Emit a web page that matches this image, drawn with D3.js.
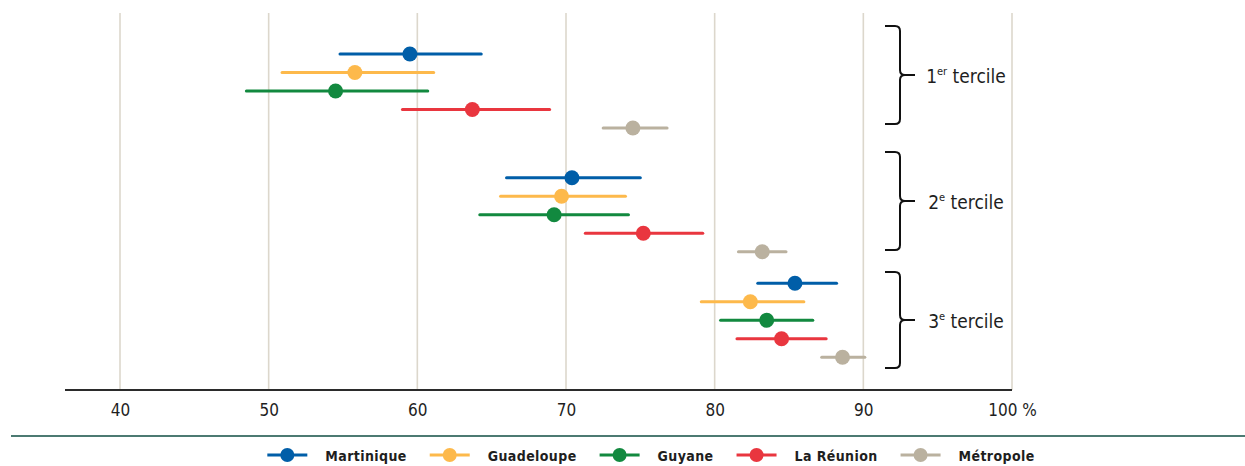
<!DOCTYPE html>
<html>
<head>
<meta charset="utf-8">
<script src="https://cdn.jsdelivr.net/npm/d3@7"></script>
<style>
  html, body { margin: 0; padding: 0; background: #fff; }
  svg { display: block; }
  text { font-family: "DejaVu Sans Condensed", "DejaVu Sans", sans-serif; font-stretch: condensed; fill: #1e1e1e; }
</style>
</head>
<body>
<svg id="chart" width="1245" height="466"></svg>
<script>
// Territories (series), in drawing order within each tercile
const series = ["Martinique", "Guadeloupe", "Guyane", "La Réunion", "Métropole"];
const seriesColors = ["#005ea8", "#fdb94b", "#12893f", "#e9363f", "#bab19f"];

// Income terciles
const terciles = ["1", "2", "3"];
const tercileSup = ["er", "e", "e"];

// Central estimate and interval bounds (%), one array per tercile, same order as series
const estimate1 = [59.5, 55.8, 54.5, 63.7, 74.5];
const low1      = [54.8, 50.9, 48.5, 59.0, 72.5];
const high1     = [64.3, 61.1, 60.7, 68.9, 76.8];

const estimate2 = [70.4, 69.7, 69.2, 75.2, 83.2];
const low2      = [66.0, 65.6, 64.2, 71.3, 81.6];
const high2     = [75.0, 74.0, 74.2, 79.2, 84.8];

const estimate3 = [85.4, 82.4, 83.5, 84.5, 88.6];
const low3      = [82.9, 79.1, 80.4, 81.5, 87.2];
const high3     = [88.2, 86.0, 86.6, 87.5, 90.1];

// Axis ticks
const tickValues = [40, 50, 60, 70, 80, 90, 100];
const tickLabels = ["40", "50", "60", "70", "80", "90", "100 %"];

// Build rows from the arrays above
const groups = [
  { est: estimate1, lo: low1, hi: high1 },
  { est: estimate2, lo: low2, hi: high2 },
  { est: estimate3, lo: low3, hi: high3 }
];
const rows = [];
groups.forEach((g, gi) => {
  series.forEach((s, si) => {
    rows.push({ tercile: terciles[gi], series: s, color: seriesColors[si], idx: si,
                est: g.est[si], lo: g.lo[si], hi: g.hi[si] });
  });
});

// ---- layout ----
const svg = d3.select("#chart");
const plotTop = 13, plotBottom = 390;
const axisLeft = 65;

const x = d3.scaleLinear().domain([40, 100]).range([120, 1012]);

// vertical position of the first row of each tercile, and row spacing
const groupStart = d3.scaleOrdinal().domain(terciles).range([54, 177.7, 283.3]);
const rowStep = 18.5;
const y = d => groupStart(d.tercile) + d.idx * rowStep;

// brace extents for each tercile block
const braceTop = d3.scaleOrdinal().domain(terciles).range([26, 152, 272]);
const braceBottom = d3.scaleOrdinal().domain(terciles).range([124, 250, 368]);

// gridlines
svg.append("g")
  .selectAll("line")
  .data(tickValues)
  .join("line")
  .attr("x1", d => x(d)).attr("x2", d => x(d))
  .attr("y1", plotTop).attr("y2", plotBottom)
  .attr("stroke", "#dcd7cc")
  .attr("stroke-width", 1.6);

// axis
const axis = d3.axisBottom(x)
  .tickValues(tickValues)
  .tickFormat((d, i) => tickLabels[i])
  .tickSize(0)
  .tickPadding(14);
const ax = svg.append("g").attr("transform", `translate(0,${plotBottom})`).call(axis);
ax.select(".domain").remove();
ax.selectAll("text")
  .attr("font-size", 17)
  .attr("font-family", null)
  .attr("fill", "#1e1e1e");
svg.append("line")
  .attr("x1", axisLeft).attr("x2", x(100))
  .attr("y1", plotBottom).attr("y2", plotBottom)
  .attr("stroke", "#2b2b2b").attr("stroke-width", 2);

// interval lines
svg.append("g")
  .selectAll("line")
  .data(rows)
  .join("line")
  .attr("x1", d => x(d.lo)).attr("x2", d => x(d.hi))
  .attr("y1", d => y(d)).attr("y2", d => y(d))
  .attr("stroke", d => d.color)
  .attr("stroke-width", 3)
  .attr("stroke-linecap", "round");

// point estimates
svg.append("g")
  .selectAll("circle")
  .data(rows)
  .join("circle")
  .attr("cx", d => x(d.est))
  .attr("cy", d => y(d))
  .attr("r", 7.5)
  .attr("fill", d => d.color);

// braces with tercile labels
function bracePath(x0, top, bottom) {
  const mid = (top + bottom) / 2;
  const r = 5, xv = x0 + 15, tip = x0 + 30;
  return `M${x0},${top} L${xv - r},${top} Q${xv},${top} ${xv},${top + r}` +
         ` L${xv},${mid - r} Q${xv},${mid} ${xv + r},${mid} L${tip},${mid}` +
         ` M${xv + r},${mid} Q${xv},${mid} ${xv},${mid + r}` +
         ` L${xv},${bottom - r} Q${xv},${bottom} ${xv - r},${bottom} L${x0},${bottom}`;
}
const braces = svg.append("g").selectAll("g").data(terciles).join("g");
braces.append("path")
  .attr("d", t => bracePath(885, braceTop(t), braceBottom(t)))
  .attr("fill", "none")
  .attr("stroke", "#111")
  .attr("stroke-width", 2);
const lbl = braces.append("text")
  .attr("x", 966)
  .attr("y", t => (braceTop(t) + braceBottom(t)) / 2 + 8)
  .attr("text-anchor", "middle")
  .attr("font-size", 19);
lbl.append("tspan").text(t => t);
lbl.append("tspan")
  .attr("font-size", 11)
  .attr("dy", -8)
  .text((t, i) => tercileSup[i]);
lbl.append("tspan")
  .attr("dy", 8)
  .text(" tercile");

// separator above legend
svg.append("line")
  .attr("x1", 11).attr("x2", 1245)
  .attr("y1", 436).attr("y2", 436)
  .attr("stroke", "#4c7a72").attr("stroke-width", 2);

// legend
const legendY = 455;
const legend = svg.append("g");
const items = legend.selectAll("g").data(series).join("g");
items.append("line")
  .attr("x1", 0).attr("x2", 40)
  .attr("y1", 0).attr("y2", 0)
  .attr("stroke", (d, i) => seriesColors[i])
  .attr("stroke-width", 3);
items.append("circle")
  .attr("cx", 20).attr("cy", 0).attr("r", 7)
  .attr("fill", (d, i) => seriesColors[i]);
items.append("text")
  .attr("x", 58)
  .attr("y", 5.5)
  .attr("font-size", 14)
  .attr("font-weight", 700)
  .attr("letter-spacing", 0.4)
  .attr("fill", "#222")
  .text(d => d);
let cursor = 0;
items.each(function () {
  const g = d3.select(this);
  g.attr("transform", `translate(${cursor},${legendY})`);
  const w = 58 + g.select("text").node().getComputedTextLength();
  cursor += w + 23;
});
const totalW = cursor - 23;
legend.attr("transform", `translate(${651 - totalW / 2},0)`);
</script>
</body>
</html>
